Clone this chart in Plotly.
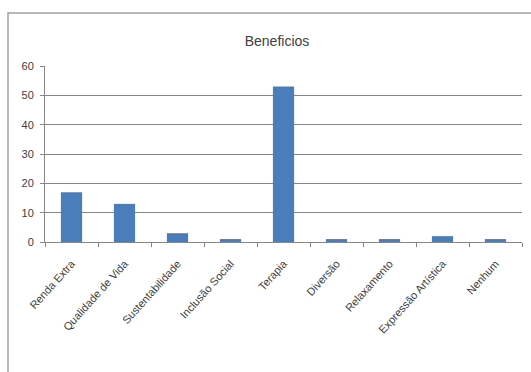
import plotly.graph_objects as go

categories = ["Renda Extra", "Qualidade de Vida", "Sustentabilidade", "Inclusão Social",
              "Terapia", "Diversão", "Relaxamento", "Expressão Artística", "Nenhum"]
values = [17, 13, 3, 1, 53, 1, 1, 2, 1]
y_ticks = [0, 10, 20, 30, 40, 50, 60]

L, R, T, B = 45, 9, 66, 130
W, H = 531, 372
pw, ph = W - L - R, H - T - B

def px_x(x):
    return (x - L) / pw

def px_y(y):
    return (H - B - y) / ph

fig = go.Figure(go.Bar(x=categories, y=values, marker_color="#4A7EBB",
                       marker_line_width=0, width=0.4))

fig.update_layout(
    width=W, height=H,
    margin=dict(l=L, r=R, t=T, b=B),
    paper_bgcolor="white", plot_bgcolor="white",
    font=dict(family="Liberation Sans, Arial, sans-serif", size=11, color="#404040"),
    title=dict(text="Beneficios", x=(277) / W, xanchor="center", y=1 - 41 / H, yanchor="middle",
               font=dict(size=14, color="#404040")),
    showlegend=False,
)
fig.update_xaxes(showgrid=False, showline=True, linecolor="#868686", linewidth=1,
                 ticks="outside", tickson="boundaries", ticklen=4, tickcolor="#868686",
                 tickangle=-48, ticklabelstandoff=10,
                 tickfont=dict(size=11, color="#404040"))
fig.update_yaxes(range=[0, 60], tickvals=y_ticks, showgrid=True, gridcolor="#868686",
                 gridwidth=1, showline=True, linecolor="#868686", linewidth=1,
                 ticks="outside", ticklen=4, tickcolor="#868686", zeroline=False,
                 ticklabelstandoff=4,
                 tickfont=dict(size=11, color="#404040"))
fig.add_shape(type="rect", xref="paper", yref="paper",
              x0=px_x(8), x1=px_x(540), y0=px_y(380), y1=px_y(13),
              line=dict(color="#A0A0A0", width=1.5), layer="below")

fig.write_html("out.html")
